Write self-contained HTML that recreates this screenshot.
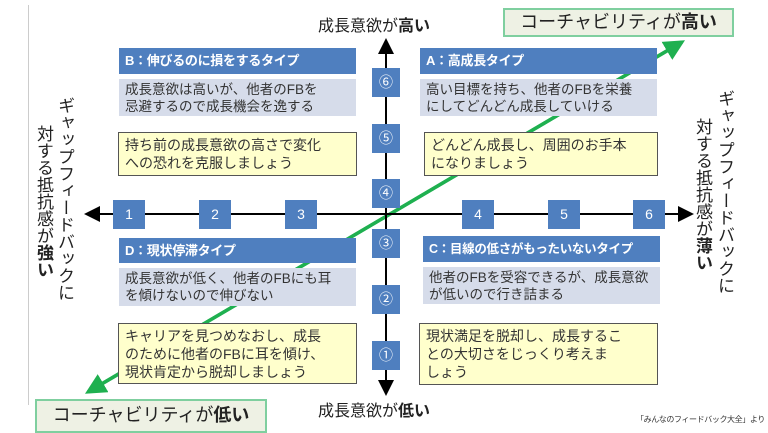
<!DOCTYPE html>
<html><head><meta charset="utf-8"><style>
body{margin:0;width:768px;height:432px;overflow:hidden;background:#fff;font-family:"Liberation Sans","Noto Sans CJK JP",sans-serif;position:relative}
.a{position:absolute;box-sizing:border-box}
.h{background:#4f7fbf;color:#fff;font-weight:bold;font-size:13px;line-height:26px;padding-left:6px;white-space:nowrap;letter-spacing:-0.3px}
.d{background:#d6dcea;color:#333;font-size:13.5px;line-height:17px;padding:2px 6px}
.y{background:#ffffcc;border:1px solid #555;color:#333;font-size:14px;line-height:18px;padding:3px 6px}
.sq{background:#4f7fbf;color:#fff;font-size:14px;text-align:center;line-height:28px;width:28px;height:29px}
.v{writing-mode:vertical-rl;font-size:17px;color:#222;letter-spacing:0px}
.g{background:#eef1e4;border:2px solid #7fcf9f;font-size:18px;color:#222;text-align:center}
</style></head><body>
<div class="a" style="left:28px;top:5px;width:1px;height:400px;background:#ccc"></div>
<svg class="a" style="left:0;top:0" width="768" height="432">
<defs>
<marker id="k" markerWidth="8" markerHeight="8" refX="7" refY="4" orient="auto"><path d="M0,0 L8,4 L0,8 z" fill="#000"/></marker>
<marker id="gk" markerWidth="6" markerHeight="6" refX="5" refY="3" orient="auto"><path d="M0,0 L6,3 L0,6 z" fill="#1fb050"/></marker>
</defs>
<line x1="88" y1="392" x2="682" y2="42" stroke="#1fb050" stroke-width="3.5" marker-end="url(#gk)"/>
<line x1="682" y1="42" x2="88" y2="392" stroke="#1fb050" stroke-width="3.5" marker-end="url(#gk)"/>
<line x1="386" y1="392" x2="386" y2="40" stroke="#000" stroke-width="2" marker-end="url(#k)"/>
<line x1="386" y1="40" x2="386" y2="394" stroke="#000" stroke-width="2" marker-end="url(#k)"/>
<line x1="386" y1="214" x2="86" y2="214" stroke="#000" stroke-width="2" marker-end="url(#k)"/>
<line x1="386" y1="214" x2="692" y2="214" stroke="#000" stroke-width="2" marker-end="url(#k)"/>
</svg>
<div class="a" style="left:318px;top:12px;font-size:16px;color:#222">成長意欲が<b>高い</b></div>
<div class="a" style="left:318px;top:397px;font-size:16px;color:#222">成長意欲が<b>低い</b></div>
<div class="a g" style="left:503px;top:8px;width:231px;height:29px;line-height:25px">コーチャビリティが<b>高い</b></div>
<div class="a g" style="left:35px;top:399px;width:232px;height:34px;line-height:28px">コーチャビリティが<b>低い</b></div>

<div class="a h" style="left:119px;top:48px;width:237px;height:26px">B：伸びるのに損をするタイプ</div>
<div class="a d" style="left:119px;top:79px;width:237px;height:37px">成長意欲は高いが、他者のFBを<br>忌避するので成長機会を逸する</div>
<div class="a y" style="left:118px;top:132px;width:239px;height:44px">持ち前の成長意欲の高さで変化<br>への恐れを克服しましょう</div>

<div class="a h" style="left:420px;top:48px;width:237px;height:26px">A：高成長タイプ</div>
<div class="a d" style="left:420px;top:79px;width:237px;height:37px">高い目標を持ち、他者のFBを栄養<br>にしてどんどん成長していける</div>
<div class="a y" style="left:424px;top:132px;width:234px;height:44px">どんどん成長し、周囲のお手本<br>になりましょう</div>

<div class="a h" style="left:119px;top:238px;width:237px;height:25px">D：現状停滞タイプ</div>
<div class="a d" style="left:119px;top:268px;width:237px;height:38px">成長意欲が低く、他者のFBにも耳<br>を傾けないので伸びない</div>
<div class="a y" style="left:118px;top:323px;width:239px;height:61px">キャリアを見つめなおし、成長<br>のために他者のFBに耳を傾け、<br>現状肯定から脱却しましょう</div>

<div class="a h" style="left:423px;top:236px;width:237px;height:26px;font-size:12.5px">C：目線の低さがもったいないタイプ</div>
<div class="a d" style="left:423px;top:267px;width:237px;height:37px">他者のFBを受容できるが、成長意欲<br>が低いので行き詰まる</div>
<div class="a y" style="left:419px;top:323px;width:239px;height:62px">現状満足を脱却し、成長するこ<br>との大切さをじっくり考えま<br>しょう</div>

<div class="a sq" style="left:372px;top:68px">⑥</div>
<div class="a sq" style="left:372px;top:124px">⑤</div>
<div class="a sq" style="left:372px;top:179px">④</div>
<div class="a sq" style="left:372px;top:229px">③</div>
<div class="a sq" style="left:372px;top:285px">②</div>
<div class="a sq" style="left:372px;top:341px">①</div>
<div class="a sq" style="left:113px;top:200px;width:32px">1</div>
<div class="a sq" style="left:199px;top:200px;width:32px">2</div>
<div class="a sq" style="left:285px;top:200px;width:32px">3</div>
<div class="a sq" style="left:462px;top:200px;width:32px">4</div>
<div class="a sq" style="left:548px;top:200px;width:32px">5</div>
<div class="a sq" style="left:633px;top:200px;width:32px">6</div>

<div class="a v" style="left:52px;top:97px">ギャップフィードバックに</div>
<div class="a v" style="left:31px;top:125px">対する抵抗感が<b>強い</b></div>
<div class="a v" style="left:712px;top:90px">ギャップフィードバックに</div>
<div class="a v" style="left:690px;top:118px">対する抵抗感が<b>薄い</b></div>
<div class="a" style="left:636px;top:414px;font-size:8px;color:#333;white-space:nowrap;letter-spacing:-0.4px">「みんなのフィードバック大全」より</div>
</body></html>
